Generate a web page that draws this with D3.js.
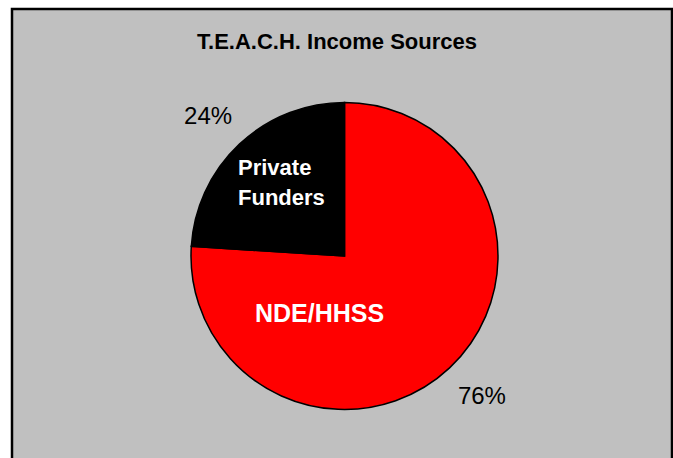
<!DOCTYPE html>
<html>
<head>
<meta charset="utf-8">
<script src="https://cdn.jsdelivr.net/npm/d3@7"></script>
<style>
  body { margin: 0; background: #ffffff; }
  svg { display: block; font-family: Arial, "Liberation Sans", sans-serif; }
</style>
</head>
<body>
<div id="chart"></div>
<script>
// chart data
var categories = ["NDE/HHSS", "Private Funders"];
var values = [76, 24];
var percentLabels = ["76%", "24%"];
var colors = ["#ff0000", "#000000"];
var chartTitle = "T.E.A.C.H. Income Sources";

var svgWidth = 673;
var svgHeight = 458;

var svg = d3.select("#chart")
  .append("svg")
  .attr("width", svgWidth)
  .attr("height", svgHeight);

// gray chart area with black frame
svg.append("rect")
  .attr("x", 12)
  .attr("y", 9)
  .attr("width", 660)
  .attr("height", 470)
  .attr("fill", "#c0c0c0")
  .attr("stroke", "#000")
  .attr("stroke-width", 2.5);

svg.append("text")
  .attr("x", 337)
  .attr("y", 49)
  .attr("text-anchor", "middle")
  .style("font-size", "22px")
  .style("font-weight", "bold")
  .text(chartTitle);

var cx = 344.5, cy = 256, radius = 153.5;

var pieGroup = svg.append("g")
  .attr("transform", `translate(${cx}, ${cy})`);

var pie = d3.pie().sort(null).value(d => d);
var arcs = pie(values);

var arc = d3.arc().innerRadius(0).outerRadius(radius);
var outerArc = d3.arc().innerRadius(192).outerRadius(192);

pieGroup.selectAll("path")
  .data(arcs)
  .enter()
  .append("path")
  .attr("d", arc)
  .attr("fill", (d, i) => colors[i])
  .attr("stroke", "#000")
  .attr("stroke-width", 1.5);

// percentage labels outside the slices
pieGroup.selectAll(".pct")
  .data(arcs)
  .enter()
  .append("text")
  .attr("class", "pct")
  .attr("transform", d => {
    var c = outerArc.centroid(d);
    return `translate(${c[0] + (d.index === 0 ? 6 : -5)}, ${c[1]})`;
  })
  .attr("dy", "0.35em")
  .attr("text-anchor", "middle")
  .style("font-size", "24px")
  .text((d, i) => percentLabels[i]);

// category labels inside the slices
pieGroup.append("text")
  .attr("x", -25)
  .attr("y", 66)
  .attr("text-anchor", "middle")
  .style("font-size", "25px")
  .style("font-weight", "bold")
  .style("fill", "#fff")
  .text(categories[0]);

var privLabel = pieGroup.append("text")
  .attr("text-anchor", "start")
  .style("font-size", "22px")
  .style("font-weight", "bold")
  .style("fill", "#fff");

categories[1].split(" ").forEach(function(word, i) {
  privLabel.append("tspan")
    .attr("x", -106.5)
    .attr("y", -81 + i * 30)
    .text(word);
});
</script>
</body>
</html>
